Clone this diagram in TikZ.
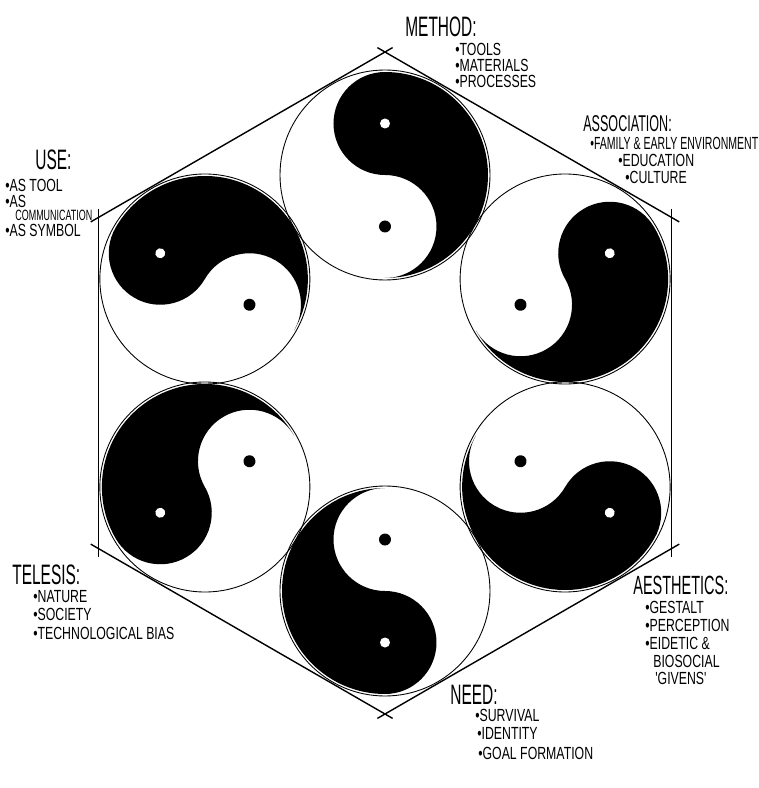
\documentclass[tikz,border=0pt]{standalone}
\usepackage{fontspec}
\newfontfamily\headfont{Liberation Sans}[FakeStretch=0.55]
\newfontfamily\handfont{Liberation Sans}[FakeStretch=0.7]
\newfontfamily\tightfont{Liberation Sans}[FakeStretch=0.6]

\tikzset{
    hexline/.style={line width=0.8pt, shorten <=-5pt, shorten >=-5pt},
    ring/.style={line width=0.5pt},
    headtext/.style={font=\headfont\fontsize{16}{16}\selectfont, anchor=west, inner sep=0pt},
    itemtext/.style={font=\handfont\fontsize{10}{11}\selectfont, anchor=west, inner sep=0pt},
}

\begin{document}
\begin{tikzpicture}[x=0.02cm, y=0.02cm]
    \useasboundingbox (-385,-405) rectangle (373,383);

    % Hexagon frame
    \foreach \a in {90,150,...,420} {
        \draw[hexline] (\a:331) -- (\a+60:331);
    }

    % Six yin-yang discs, turned by 60 degrees each
    \foreach \a in {90,150,...,420} {
        \begin{scope}[shift={(\a:208)}, rotate=\a-90]
            \fill[black] (0,103) arc[start angle=90, end angle=-90, radius=103]
                arc[start angle=-90, end angle=90, radius=51.5]
                arc[start angle=-90, end angle=-270, radius=51.5] -- cycle;
            \draw[ring] (0,0) circle[radius=105];
            \fill[white] (0,51.5) circle[radius=5];
            \fill[black] (0,-51.5) circle[radius=6];
        \end{scope}
    }

    % Method
    \node[headtext] (method) at (20,356) {METHOD:};
    \node[itemtext] (tools) at (70,334) {•TOOLS};
    \node[itemtext] (materials) at (70,318) {•MATERIALS};
    \node[itemtext] (processes) at (70,302) {•PROCESSES};

    % Association
    \node[headtext, font=\headfont\fontsize{13}{13}\selectfont] (assoc) at (198,259) {ASSOCIATION:};
    \node[itemtext, font=\tightfont\fontsize{10}{10}\selectfont] (family) at (205,240) {•FAMILY \& EARLY ENVIRONMENT};
    \node[itemtext] (education) at (233,223) {•EDUCATION};
    \node[itemtext] (culture) at (240,206) {•CULTURE};

    % Use
    \node[headtext] (use) at (-350,223) {USE:};
    \node[itemtext] (astool) at (-380,198) {•AS TOOL};
    \node[itemtext] (as) at (-380,182) {•AS};
    \node[itemtext, font=\tightfont\fontsize{8.5}{8.5}\selectfont] (communication) at (-370,168) {COMMUNICATION};
    \node[itemtext] (assymbol) at (-380,153) {•AS SYMBOL};

    % Telesis
    \node[headtext] (telesis) at (-373,-192) {TELESIS:};
    \node[itemtext] (nature) at (-352,-214) {•NATURE};
    \node[itemtext] (society) at (-352,-231) {•SOCIETY};
    \node[itemtext] (techbias) at (-352,-250) {•TECHNOLOGICAL BIAS};

    % Aesthetics
    \node[headtext, font=\headfont\fontsize{15}{15}\selectfont] (aesthetics) at (248,-202) {AESTHETICS:};
    \node[itemtext] (gestalt) at (260,-224) {•GESTALT};
    \node[itemtext] (perception) at (260,-242) {•PERCEPTION};
    \node[itemtext] (eidetic) at (260,-260) {•EIDETIC \&};
    \node[itemtext] (biosocial) at (268,-278) {BIOSOCIAL};
    \node[itemtext] (givens) at (270,-295) {'GIVENS'};

    % Need
    \node[headtext] (need) at (65,-312) {NEED:};
    \node[itemtext] (survival) at (90,-332) {•SURVIVAL};
    \node[itemtext] (identity) at (92,-350) {•IDENTITY};
    \node[itemtext] (goal) at (93,-370) {•GOAL FORMATION};
\end{tikzpicture}
\end{document}
